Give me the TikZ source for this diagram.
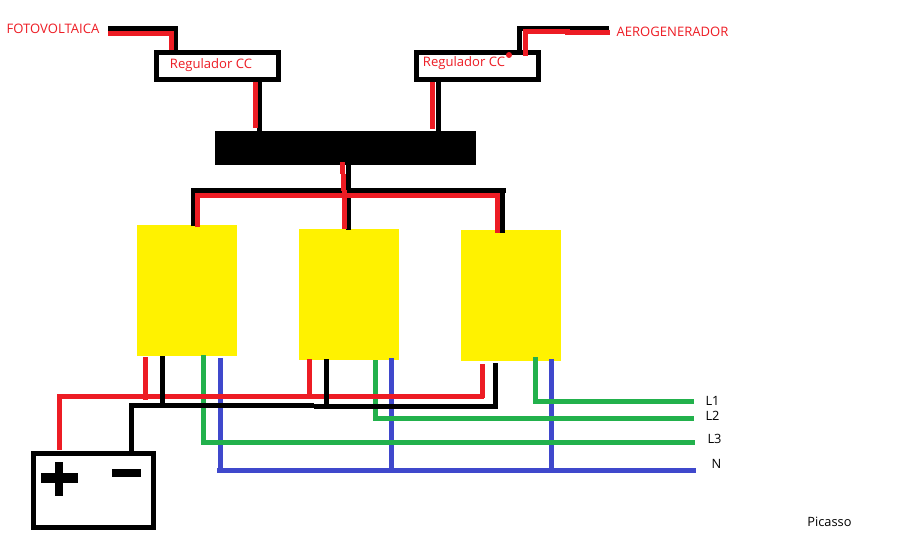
\documentclass[tikz,border=0pt]{standalone}
\usepackage{fontspec}
\setmainfont{Open Sans}
\definecolor{pred}{HTML}{ED1C24}
\definecolor{pyel}{HTML}{FFF200}
\definecolor{pgrn}{HTML}{22B14C}
\definecolor{pblu}{HTML}{3F48CC}
\tikzset{
  wire/.style={line width=3.75pt,line cap=butt,line join=miter},
  wblk/.style={wire,draw=black},
  wred/.style={wire,draw=pred},
  wgrn/.style={wire,draw=pgrn},
  wblu/.style={wire,draw=pblu},
  outlinebox/.style={draw=black,line width=3.75pt,fill=white,inner sep=0pt,outer sep=0pt},
  regbox/.style={outlinebox,minimum width=91.5pt,minimum height=20.5pt},
  battbox/.style={outlinebox,minimum width=90pt,minimum height=55.5pt},
  solid block/.style={fill=#1,draw=none,inner sep=0pt,outer sep=0pt},
  inverter/.style={solid block=pyel,minimum width=75pt,minimum height=98.25pt},
  redtxt/.style={text=pred,font=\fontsize{9.8pt}{11pt}\selectfont,inner sep=0pt},
  blktxt/.style={text=black,font=\fontsize{9.6pt}{11pt}\selectfont,inner sep=0pt},
}
\begin{document}
\begin{tikzpicture}[x=0.75pt,y=-0.75pt]
\useasboundingbox (0,0) rectangle (908,560);
% boxes
\node[regbox] (reg1) at (217.5,66) {};
\node[regbox] (reg2) at (477.5,66) {};
\node[solid block=black,minimum width=195.75pt,minimum height=25.5pt] (bus) at (345.5,148) {};
\node[inverter] (inv1) at (187,290.5) {};
\node[inverter] (inv2) at (349,294.5) {};
\node[inverter] (inv3) at (511,295.5) {};
\node[battbox] (batt) at (93.5,490.5) {};
\node[solid block=black,minimum width=27.75pt,minimum height=7.5pt] (plusH) at (59.5,478) {};
\node[solid block=black,minimum width=6pt,minimum height=25.5pt] (plusV) at (59,479) {};
\node[solid block=black,minimum width=21.75pt,minimum height=6pt] (minus) at (126.5,473) {};
% labels
\node[redtxt] (tpv) at (53,29) {FOTOVOLTAICA};
\node[redtxt] (tae) at (672.5,32) {AEROGENERADOR};
\node[redtxt] (tr1) at (211,65) {Regulador CC};
\node[redtxt] (tr2) at (464,63) {Regulador CC};
\node[blktxt] (l1) at (712.5,400.5) {L1};
\node[blktxt] (l2) at (712.5,416) {L2};
\node[blktxt] (l3) at (714.5,439) {L3};
\node[blktxt] (ln) at (716.5,464) {N};
\node[blktxt] (pic) at (829.5,522) {Picasso};
% free ends
\coordinate (pvk) at (108,29);
\coordinate (pvr) at (108,34);
\coordinate (aek) at (609,29);
\coordinate (aer) at (610,33);
\coordinate (endL1) at (694,401.5);
\coordinate (endL2) at (694,418.5);
\coordinate (endL3) at (695,442.5);
\coordinate (endN) at (696,470.5);
% blue
\draw[wblu] (220.5,358) -- (220.5,470.5) coordinate (nj1);
\draw[wblu] (391.5,358) -- (391.5,470.5);
\draw[wblu] (551.5,359) -- (551.5,470.5);
\draw[wblu] (217,470.5) -- (endN);
% green
\draw[wgrn] (203.5,355) |- (endL3);
\draw[wgrn] (375.5,360) |- (endL2);
\draw[wgrn] (535.5,357) |- (endL1);
% red, battery and inverters
\draw[wred] (59.5,450) |- (484,396.5) coordinate (rbus);
\draw[wred] (482.5,364) -- (482.5,398);
\draw[wred] (145.5,357) -- (145.5,400);
\draw[wred] (309.5,359) -- (309.5,397);
% black, battery and inverters
\draw[wblk] (131.5,452) |- (314,405.5);
\draw[wblk] (314,406.5) -| (495.5,363);
\draw[wblk] (162.5,356) -- (162.5,405);
\draw[wblk] (326.5,359) -- (326.5,405);
% top feeds
\draw[wblk] (pvk) -| (175.5,50);
\draw[wred] (pvr) -| (171,50);
\draw[wblk] (aek) -| (519,50);
\draw[wred] (525,56) |- (567,32) -- (567,33) -- (aer);
\fill[pred] (509,55) circle (3);
\draw[wblk] (259,82) -- (259,131);
\draw[wred] (255.5,82) -- (255.5,128);
\draw[wblk] (438,82) -- (438,131);
\draw[wred] (432.5,82) -- (432.5,129);
% bus to inverters
\draw[wblk] (193,226) |- (506,191);
\draw[wblk] (502,191) -- (502,233);
\draw[wblk] (348,165) -- (348,191);
\draw[wblk] (348.7,191) -- (348.7,230);
\draw[wred] (197.5,227) |- (500,195.5);
\draw[wred] (497,195.5) -- (497,233);
\draw[wred] (344.3,190) -- (344.3,229);
\draw[wred] (342,162) -- (342,174);
\draw[wred] (343.5,174) -- (343.5,191);
\end{tikzpicture}
\end{document}
